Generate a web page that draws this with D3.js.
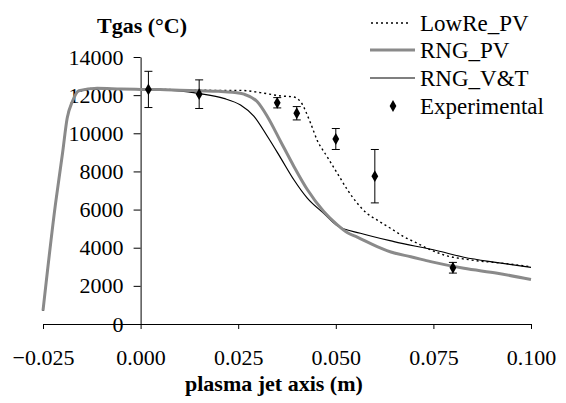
<!DOCTYPE html>
<html>
<head>
<meta charset="utf-8">
<script src="https://cdn.jsdelivr.net/npm/d3@7"></script>
<style>
  body { margin: 0; background: #fff; }
  svg { display: block; }
  text { font-family: "Liberation Serif", "Times New Roman", serif; fill: #000; }
</style>
</head>
<body>
<div class="chart"></div>
<script>
// ---- data (x in m, T in degrees C) ----
var xTicks = [-0.025, 0.000, 0.025, 0.050, 0.075, 0.100];
var yTicks = [0, 2000, 4000, 6000, 8000, 10000, 12000, 14000];

var lowReX = [-0.025, -0.0218, -0.020, -0.0188, -0.0175, -0.0158, -0.0111, -0.005, 0.0, 0.005, 0.010, 0.020, 0.0256, 0.0307, 0.0359, 0.0393, 0.041, 0.0435, 0.0452, 0.0478, 0.0504, 0.053, 0.0555, 0.058, 0.0606, 0.064, 0.0674, 0.0709, 0.0734, 0.0777, 0.0845, 0.093, 0.100];
var lowReT = [700, 6300, 8950, 10800, 11650, 12230, 12360, 12320, 12300, 12300, 12280, 12250, 12250, 12130, 11960, 11900, 11650, 10550, 9650, 8770, 7900, 7030, 6330, 5800, 5450, 5020, 4580, 4230, 3970, 3620, 3360, 3180, 3000];

var rngPvX = [-0.025, -0.0218, -0.020, -0.0188, -0.0175, -0.0158, -0.0111, -0.005, 0.0, 0.005, 0.010, 0.015, 0.020, 0.0235, 0.0265, 0.0299, 0.0325, 0.0359, 0.0393, 0.0427, 0.0469, 0.0504, 0.0529, 0.0555, 0.0606, 0.0650, 0.0692, 0.0743, 0.0828, 0.0914, 0.100];
var rngPvT = [700, 6300, 8950, 10800, 11650, 12230, 12360, 12320, 12300, 12290, 12260, 12230, 12200, 12150, 12050, 11650, 10870, 9560, 8250, 7050, 5900, 5200, 4800, 4560, 4060, 3720, 3530, 3270, 2920, 2660, 2330];

var rngVtX = [-0.025, -0.0218, -0.020, -0.0188, -0.0175, -0.0158, -0.0111, -0.005, 0.0, 0.005, 0.010, 0.015, 0.0213, 0.0256, 0.029, 0.0325, 0.0359, 0.0393, 0.0427, 0.0469, 0.0504, 0.0563, 0.0649, 0.076, 0.0828, 0.0914, 0.100];
var rngVtT = [700, 6300, 8950, 10800, 11650, 12230, 12340, 12320, 12300, 12280, 12220, 12080, 11830, 11480, 10900, 9830, 8700, 7550, 6600, 5800, 5150, 4760, 4320, 3840, 3500, 3220, 2970];

var expX = [0.002, 0.015, 0.035, 0.040, 0.050, 0.060, 0.080];
var expT = [12300, 12050, 11600, 11050, 9700, 7750, 2950];
var expErr = [950, 750, 270, 350, 550, 1400, 280];

var legendNames = ["LowRe_PV", "RNG_PV", "RNG_V&T", "Experimental"];

// ---- layout ----
var w = 566, h = 403;

var svg = d3.select(".chart")
            .append("svg")
            .attr("width", w)
            .attr("height", h);

var x = d3.scaleLinear().domain([-0.025, 0.1]).range([43, 531]);
var y = d3.scaleLinear().domain([0, 14000]).range([324, 57]);

// x axis along T = 0
var xAxis = svg.append("g")
    .attr("transform", "translate(0," + y(0) + ")")
    .call(d3.axisBottom(x).tickValues(xTicks).tickFormat(d3.format(".3f"))
          .tickSize(5).tickSizeOuter(0).tickPadding(20));

// y axis at x = 0
var yAxis = svg.append("g")
    .attr("transform", "translate(" + x(0) + ",0)")
    .call(d3.axisLeft(y).tickValues(yTicks).tickFormat(d3.format("d"))
          .tickSize(7).tickSizeOuter(0).tickPadding(10));

svg.selectAll(".domain, .tick line").attr("stroke", "#000").attr("stroke-width", 1);
svg.selectAll(".tick text")
    .style("font-family", "'Liberation Serif', 'Times New Roman', serif")
    .style("font-size", "22px")
    .attr("fill", "#000");

// titles
svg.append("text")
    .attr("x", 97).attr("y", 33)
    .style("font-size", "22px").style("font-weight", "bold")
    .text("Tgas (°C)");

svg.append("text")
    .attr("x", 185).attr("y", 391)
    .style("font-size", "22px").style("font-weight", "bold")
    .text("plasma jet axis (m)");

// ---- lines ----
function lineOf(xs, ts) {
    return d3.line()
        .x(function (d, i) { return x(xs[i]); })
        .y(function (d, i) { return y(ts[i]); })
        .curve(d3.curveMonotoneX)(ts);
}

svg.append("path")
    .attr("d", lineOf(lowReX, lowReT))
    .attr("fill", "none")
    .attr("stroke", "#000")
    .attr("stroke-width", 1.4)
    .attr("stroke-dasharray", "2,3");

svg.append("path")
    .attr("d", lineOf(rngVtX, rngVtT))
    .attr("fill", "none")
    .attr("stroke", "#000")
    .attr("stroke-width", 1.2);

svg.append("path")
    .attr("d", lineOf(rngPvX, rngPvT))
    .attr("fill", "none")
    .attr("stroke", "#8a8a8a")
    .attr("stroke-width", 3);

// ---- experimental points with error bars ----
var exp = svg.append("g");
var idx = d3.range(expX.length);

exp.selectAll(".ebar")
    .data(idx).enter().append("line")
    .attr("x1", function (i) { return x(expX[i]); })
    .attr("x2", function (i) { return x(expX[i]); })
    .attr("y1", function (i) { return y(expT[i] + expErr[i]); })
    .attr("y2", function (i) { return y(expT[i] - expErr[i]); })
    .attr("stroke", "#000").attr("stroke-width", 1);

[1, -1].forEach(function (s) {
    exp.selectAll(".cap" + s)
        .data(idx).enter().append("line")
        .attr("x1", function (i) { return x(expX[i]) - 4; })
        .attr("x2", function (i) { return x(expX[i]) + 4; })
        .attr("y1", function (i) { return y(expT[i] + s * expErr[i]); })
        .attr("y2", function (i) { return y(expT[i] + s * expErr[i]); })
        .attr("stroke", "#000").attr("stroke-width", 1);
});

var diamond = d3.symbol().type(d3.symbolDiamond).size(40);
exp.selectAll(".pt")
    .data(idx).enter().append("path")
    .attr("d", diamond)
    .attr("transform", function (i) { return "translate(" + x(expX[i]) + "," + y(expT[i]) + ")"; })
    .attr("fill", "#000");

// ---- legend ----
var lg = svg.append("g");
var rowY = [23, 50, 78, 106];

lg.append("line").attr("x1", 371).attr("x2", 411).attr("y1", rowY[0]).attr("y2", rowY[0])
    .attr("stroke", "#000").attr("stroke-width", 1.4).attr("stroke-dasharray", "2,3");
lg.append("line").attr("x1", 370).attr("x2", 415).attr("y1", rowY[1]).attr("y2", rowY[1])
    .attr("stroke", "#8a8a8a").attr("stroke-width", 3);
lg.append("line").attr("x1", 370).attr("x2", 415).attr("y1", rowY[2]).attr("y2", rowY[2])
    .attr("stroke", "#000").attr("stroke-width", 1.2);
lg.append("path").attr("d", diamond)
    .attr("transform", "translate(393," + rowY[3] + ")").attr("fill", "#000");

lg.selectAll("text")
    .data(legendNames).enter().append("text")
    .attr("x", 420)
    .attr("y", function (d, i) { return rowY[i] + 8; })
    .style("font-size", "23px")
    .text(function (d) { return d; });
</script>
</body>
</html>
